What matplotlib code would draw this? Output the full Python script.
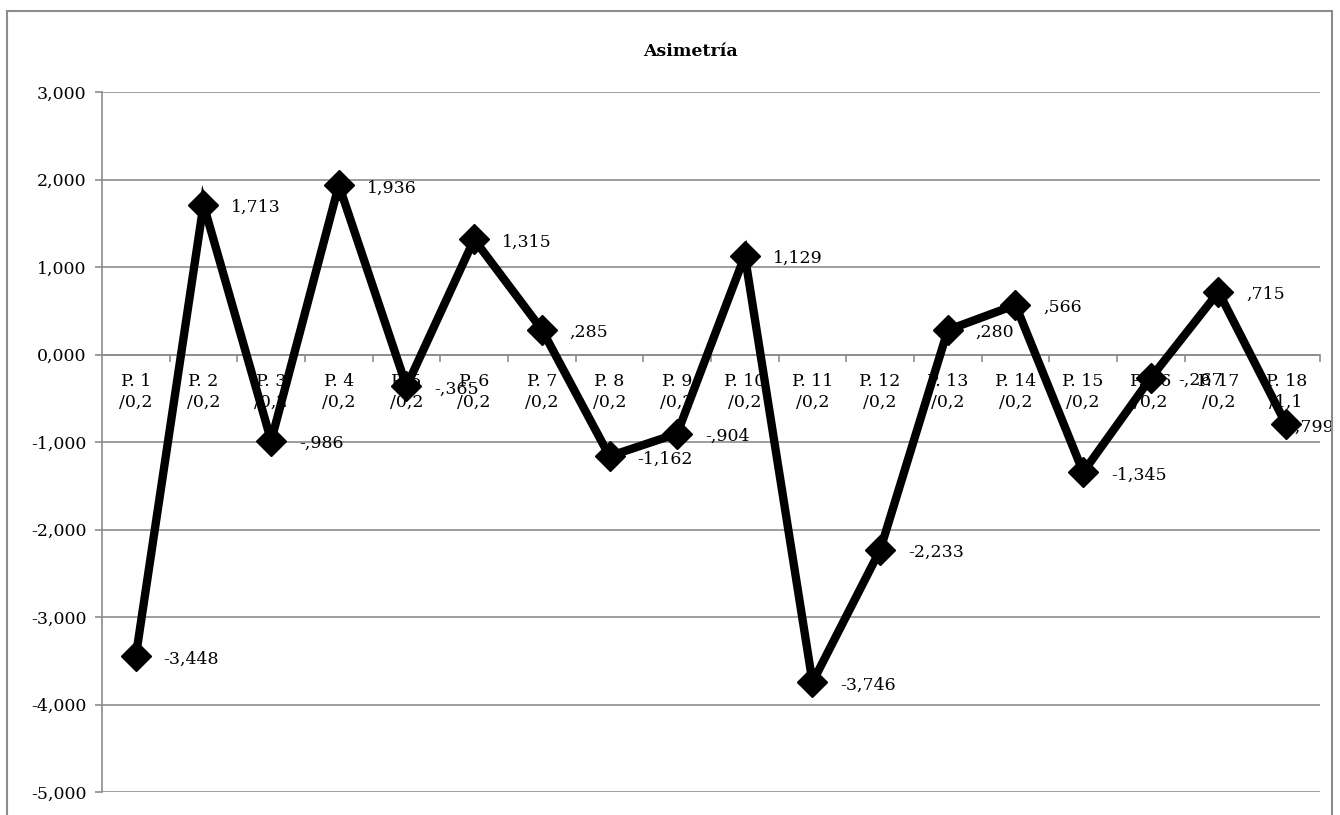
import numpy as np
import matplotlib
matplotlib.use('Agg')
import matplotlib.pyplot as plt
from matplotlib.ticker import FixedLocator, FuncFormatter
from matplotlib.patches import Rectangle

# data
cats = ['P. %d\n/0,2' % i for i in range(1, 18)] + ['P. 18\n/1,1']
vals = [-3.448, 1.713, -0.986, 1.936, -0.365, 1.315, 0.285, -1.162, -0.904,
        1.129, -3.746, -2.233, 0.280, 0.566, -1.345, -0.267, 0.715, -0.799]
lbls = ['-3,448', '1,713', '-,986', '1,936', '-,365', '1,315', ',285', '-1,162', '-,904',
        '1,129', '-3,746', '-2,233', ',280', ',566', '-1,345', '-,267', ',715', '-,799']
yticks = [-5, -4, -3, -2, -1, 0, 1, 2, 3]

plt.rcParams['font.family'] = ['DejaVu Serif']
fnt = 12.5
grey = '#8c8c8c'

fig = plt.figure(figsize=(13.4, 8.15), dpi=100)
fig.patches.append(Rectangle((7/1340, -0.05), 1325/1340, 1.05 - 11/815, transform=fig.transFigure,
                             fill=False, edgecolor=grey, linewidth=1.5))
ax = fig.add_axes([102/1340, 1 - 792/815, 1218/1340, 700/815])

x = np.arange(len(vals))
ax.plot(x, vals, color='k', linewidth=6, marker='D', markersize=15, zorder=3, solid_joinstyle='miter')
for i in range(len(vals)):
    # last label is pulled left so it stays inside the chart box, as Excel did
    dx = 20 if i < len(vals) - 1 else 2
    ax.annotate(lbls[i], (x[i], vals[i]), xytext=(dx, -2), textcoords='offset points',
                va='center', ha='left', fontsize=fnt, zorder=2 if i == len(vals) - 1 else 4,
                annotation_clip=False)

ax.set_xlim(-0.5, len(vals) - 0.5)
ax.set_ylim(-5, 3)
ax.set_yticks(yticks)
ax.yaxis.set_major_formatter(FuncFormatter(lambda v, p: ('%.3f' % v).replace('.', ',')))
ax.grid(axis='y', color=grey, linewidth=1.2)
ax.set_axisbelow(True)

ax.spines['top'].set_visible(False)
ax.spines['right'].set_visible(False)
ax.spines['left'].set_color(grey)
ax.spines['left'].set_linewidth(1.2)
ax.spines['bottom'].set_position(('data', 0))
ax.spines['bottom'].set_color(grey)
ax.spines['bottom'].set_linewidth(1.2)

ax.set_xticks(x)
ax.set_xticklabels(cats, fontsize=fnt, linespacing=1.35)
ax.xaxis.set_minor_locator(FixedLocator(np.arange(0.5, len(vals), 1.0)))
ax.tick_params(axis='x', which='major', length=0, pad=13)
ax.tick_params(axis='x', which='minor', length=5, direction='out', color=grey, width=1.2)
ax.tick_params(axis='y', length=5, color=grey, width=1.2, labelsize=fnt, pad=6)

fig.text(690/1340, 1 - 52/815, 'Asimetría', ha='center', va='center', fontsize=fnt, fontweight='bold')

fig.savefig('out.png', dpi=100)
